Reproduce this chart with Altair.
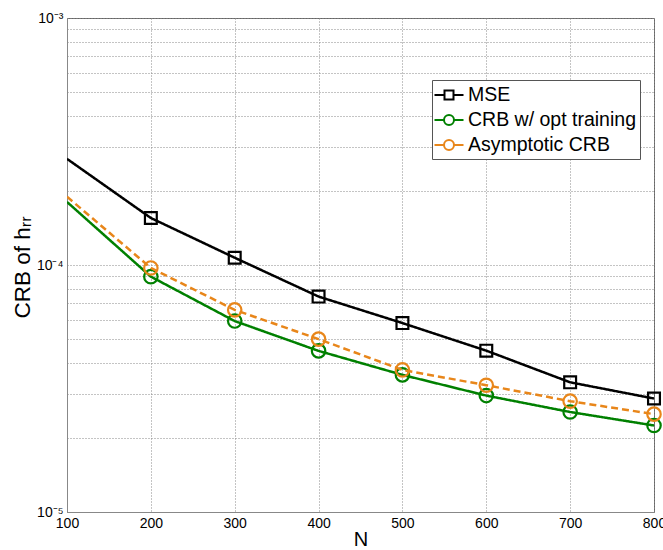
import altair as alt
import pandas as pd

# ---- data ----
N = [100, 200, 300, 400, 500, 600, 700, 800]
mse = [2.69e-4, 1.55e-4, 1.07e-4, 7.45e-5, 5.82e-5, 4.50e-5, 3.35e-5, 2.88e-5]
crb_opt = [1.80e-4, 8.97e-5, 5.93e-5, 4.49e-5, 3.59e-5, 2.96e-5, 2.54e-5, 2.24e-5]
crb_asym = [1.89e-4, 9.73e-5, 6.58e-5, 5.01e-5, 3.76e-5, 3.26e-5, 2.81e-5, 2.49e-5]
series = ["MSE", "CRB w/ opt training", "Asymptotic CRB"]
colors = ["#000000", "#008000", "#E8861A"]
dashes = [[1, 0], [1, 0], [7, 4]]
shapes = ["square", "circle", "circle"]
x_ticks = [100, 200, 300, 400, 500, 600, 700, 800]
y_ticks = [m * 10.0 ** k for k in (-5, -4) for m in range(1, 10)] + [1e-3]

FONT = "Liberation Sans"

x_enc = alt.X(
    "N:Q",
    scale=alt.Scale(domain=[100, 800], nice=False, zero=False),
    axis=alt.Axis(values=x_ticks, title="N", grid=True, ticks=False,
                  labelFontSize=14, titleFontSize=20, labelPadding=4,
                  titleY=33, titleBaseline="alphabetic",
                  labelFont=FONT, titleFont=FONT,
                  titleFontWeight="normal", labelColor="#000", titleColor="#000",
                  domainColor="#888", gridColor="#888", gridDash=[1, 2],
                  labelFlush=False, labelOverlap=False),
)
label_expr = (
    "abs(log(datum.value)/LN10 - round(log(datum.value)/LN10)) < 1e-6 ? "
    "(round(log(datum.value)/LN10) == -3 ? '10\u207b\u00b3' : "
    "round(log(datum.value)/LN10) == -4 ? '10\u207b\u2074' : '10\u207b\u2075') : ''"
)
y_enc = alt.Y(
    "val:Q",
    scale=alt.Scale(type="log", domain=[1e-5, 1e-3], nice=False),
    axis=alt.Axis(values=y_ticks, labelExpr=label_expr, title="CRB of h\u1d63\u1d63",
                  grid=True, ticks=False, labelFontSize=14, titleFontSize=22.5,
                  labelPadding=4, labelFont=FONT, titleFont=FONT,
                  titleFontWeight="normal", labelColor="#000", titleColor="#000",
                  titleX=-38, titleY=249, titleBaseline="alphabetic",
                  titleAngle=270, titleAlign="center",
                  domainColor="#888", gridColor="#888", gridDash=[1, 2],
                  labelFlush=False, labelOverlap=False),
)

layers = []
for i, (name, vals) in enumerate(zip(series, [mse, crb_opt, crb_asym])):
    d = pd.DataFrame({"N": N, "val": vals})
    line = alt.Chart(d).mark_line(
        strokeWidth=2.5, clip=True, color=colors[i], strokeDash=dashes[i]
    ).encode(x=x_enc if i == 0 else "N:Q", y=y_enc if i == 0 else "val:Q")
    pts = alt.Chart(d).transform_filter(alt.datum.N >= 200).mark_point(
        shape=shapes[i], filled=False, size=140 if i == 0 else 180,
        strokeWidth=2.2, color=colors[i], opacity=1,
    ).encode(x="N:Q", y="val:Q")
    layers += [line, pts]

# legend (only layer with scales): points invisible, symbols drawn by legend
legend_df = pd.DataFrame({"series": series, "N": [450] * 3, "val": [1e-4] * 3})
sq = "M-1.25,0H-0.25M0.65,0H1.65M-0.25,-0.45H0.65V0.45H-0.25Z"
ci = ("M-1.25,0H-0.3M0.7,0H1.65M0.7,0A0.5,0.5 0 1,1 -0.3,0"
      "A0.5,0.5 0 1,1 0.7,0")
legend_def = alt.Legend(
    title=None, orient="none", legendX=365, legendY=62,
    strokeColor="#555", fillColor="white", padding=4,
    labelFont=FONT, labelFontSize=19.5, labelColor="#000",
    symbolSize=400, symbolStrokeWidth=2, symbolOpacity=1,
    symbolFillColor="transparent", labelOffset=10, rowPadding=4,
    labelLimit=300,
)
legend_layer = alt.Chart(legend_df).mark_point(filled=False, opacity=0, strokeWidth=2).encode(
    x="N:Q", y="val:Q",
    stroke=alt.Stroke("series:N", scale=alt.Scale(domain=series, range=colors),
                      legend=legend_def),
    shape=alt.Shape("series:N", scale=alt.Scale(domain=series, range=[sq, ci, ci]),
                    legend=legend_def),
)

chart = alt.layer(*layers, legend_layer).properties(
    width=587, height=494,
    autosize=alt.AutoSizeParams(type="none"),
    padding={"left": 67, "top": 18, "right": 9, "bottom": 38},
    background="white",
).configure_view(stroke="#666", strokeWidth=1)

chart.save("out.html", embed_options={"renderer": "svg", "actions": False})
